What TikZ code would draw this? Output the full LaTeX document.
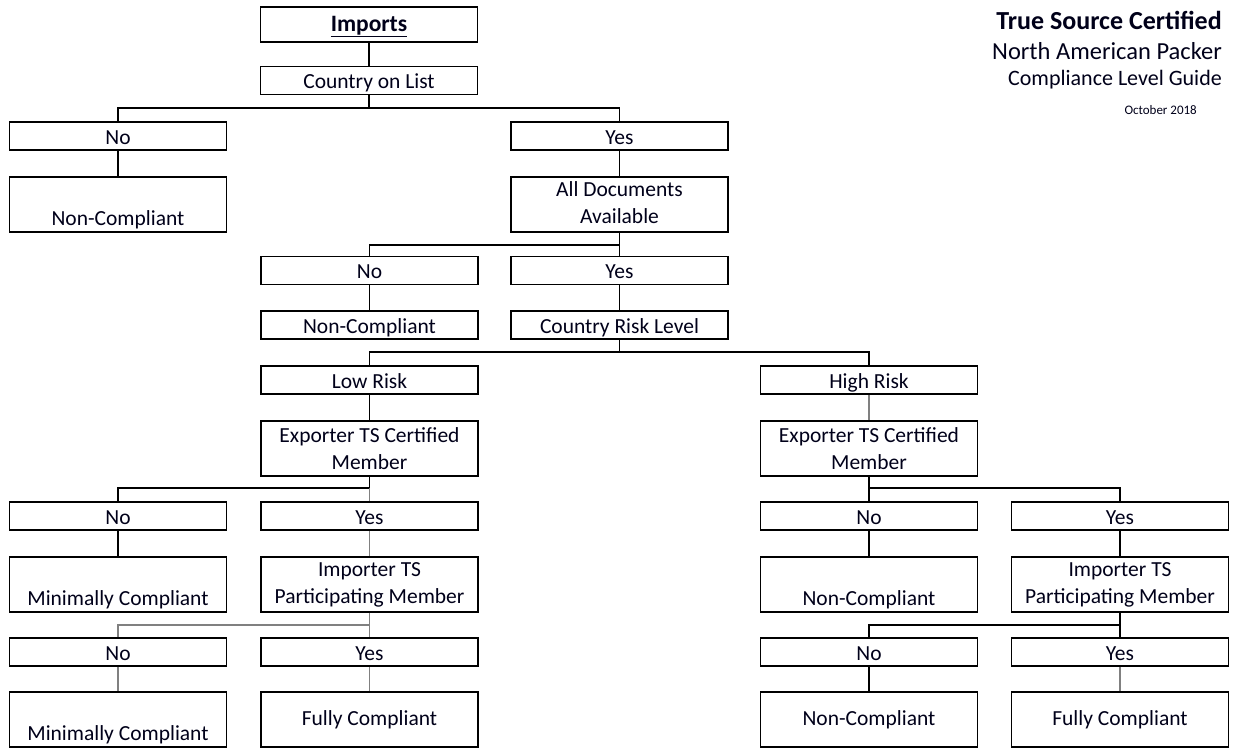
\documentclass[tikz,border=0pt]{standalone}
\usepackage{fontspec}
\setmainfont{Carlito}
\begin{document}
\begin{tikzpicture}[x=1pt,y=1pt,
  box/.style={draw, line width=1.6pt, minimum width=217pt, inner sep=0pt, align=center,
    font=\fontsize{21.5}{27}\selectfont, text=black!90!blue},
  sbox/.style={box, minimum height=28pt, text height=20pt, text depth=4pt},
  tbox/.style={box, minimum height=55pt},
  conn/.style={line width=1.5pt, black},
  conng/.style={line width=1.5pt, black!50},
  ttl/.style={anchor=base east, inner sep=0pt, text=black!90!blue}
]
\useasboundingbox (0,0) rectangle (1236,-748);

% titles
\node[ttl, font=\fontsize{26}{30}\selectfont\bfseries] (t1) at (1222,-29) {True Source Certified};
\node[ttl, font=\fontsize{24.5}{28}\selectfont] (t2) at (1222,-59) {North American Packer};
\node[ttl, font=\fontsize{22}{26}\selectfont] (t3) at (1222,-85) {Compliance Level Guide};
\node[ttl, font=\fontsize{13}{15}\selectfont] (t4) at (1197,-114) {October 2018};

% boxes
\node[box, minimum height=35pt, text height=18pt, text depth=5pt,
  font=\fontsize{23.5}{28}\selectfont] (imports) at (369,-24.5) {\underline{\textbf{Imports}}};
\node[sbox] (country) at (369,-80.5) {Country on List};

\node[sbox] (no1) at (118,-136) {No};
\node[sbox] (yes1) at (619.5,-136) {Yes};
\node[tbox] (nc1) at (118,-204.5) {\strut\\Non-Compliant};
\node[tbox] (docs) at (619.5,-204.5) {\raisebox{3pt}{All Documents}\\\raisebox{3pt}{Available}};

\node[sbox] (no2) at (369.5,-270.5) {No};
\node[sbox] (yes2) at (619.5,-270.5) {Yes};
\node[sbox] (nc2) at (369.5,-325) {Non-Compliant};
\node[sbox] (risk) at (619.5,-325) {Country Risk Level};

\node[sbox] (low) at (369.5,-380) {Low Risk};
\node[sbox] (high) at (869,-380) {High Risk};
\node[tbox] (expL) at (369.5,-448.5) {Exporter TS Certified\\Member};
\node[tbox] (expR) at (869,-448.5) {Exporter TS Certified\\Member};

\node[sbox] (no3L) at (118,-516) {No};
\node[sbox] (yes3L) at (369.5,-516) {Yes};
\node[sbox] (no3R) at (869,-516) {No};
\node[sbox] (yes3R) at (1120,-516) {Yes};

\node[tbox] (minL) at (118,-584.5) {\strut\\Minimally Compliant};
\node[tbox] (impL) at (369.5,-584.5) {Importer TS\\Participating Member};
\node[tbox] (ncR) at (869,-584.5) {\strut\\Non-Compliant};
\node[tbox] (impR) at (1120,-584.5) {Importer TS\\Participating Member};

\node[sbox] (no4L) at (118,-652) {No};
\node[sbox] (yes4L) at (369.5,-652) {Yes};
\node[sbox] (no4R) at (869,-652) {No};
\node[sbox] (yes4R) at (1120,-652) {Yes};

\node[tbox] (min2L) at (118,-719.5) {\strut\\Minimally Compliant};
\node[tbox] (fullL) at (369.5,-719.5) {Fully Compliant};
\node[tbox] (nc4R) at (869,-719.5) {Non-Compliant};
\node[tbox] (fullR) at (1120,-719.5) {Fully Compliant};

% junctions
\coordinate (j1) at (369,-108);
\coordinate (j2) at (619.5,-245);
\coordinate (j3) at (619.5,-352);
\coordinate (j4L) at (369.5,-488);
\coordinate (j4R) at (869,-488);
\coordinate (j5L) at (369.5,-625);
\coordinate (j5R) at (1120,-625);

% connectors
\draw[conn] (imports) -- (country);
\draw[conn] (country.south) -- (j1);
\draw[conn] (no1.north) |- (j1) -| (yes1.north);
\draw[conn] (no1) -- (nc1);
\draw[conn] (yes1) -- (docs);

\draw[conn] (docs.south) -- (j2);
\draw[conn] (no2.north) |- (j2) -- (yes2.north);
\draw[conn] (no2) -- (nc2);
\draw[conn] (yes2) -- (risk);

\draw[conn] (risk.south) -- (j3);
\draw[conn] (low.north) |- (j3) -| (high.north);
\draw[conn] (low) -- (expL);
\draw[conng] (high) -- (expR);

\draw[conn] (expL.south) -- (j4L);
\draw[conn] (no3L.north) |- (j4L);
\draw[conng] (j4L) -- (yes3L.north);
\draw[conn] (no3L) -- (minL);
\draw[conng] (yes3L) -- (impL);

\draw[conn] (expR.south) -- (j4R) -- (no3R.north);
\draw[conn] (j4R) -| (yes3R.north);
\draw[conn] (no3R) -- (ncR);
\draw[conn] (yes3R) -- (impR);

\draw[conng] (impL.south) -- (j5L) -- (yes4L.north);
\draw[conng] (j5L) -| (no4L.north);
\draw[conng] (no4L) -- (min2L);
\draw[conng] (yes4L) -- (fullL);

\draw[conn] (impR.south) -- (j5R) -- (yes4R.north);
\draw[conn] (j5R) -| (no4R.north);
\draw[conn] (no4R) -- (nc4R);
\draw[conng] (yes4R) -- (fullR);
\end{tikzpicture}
\end{document}
